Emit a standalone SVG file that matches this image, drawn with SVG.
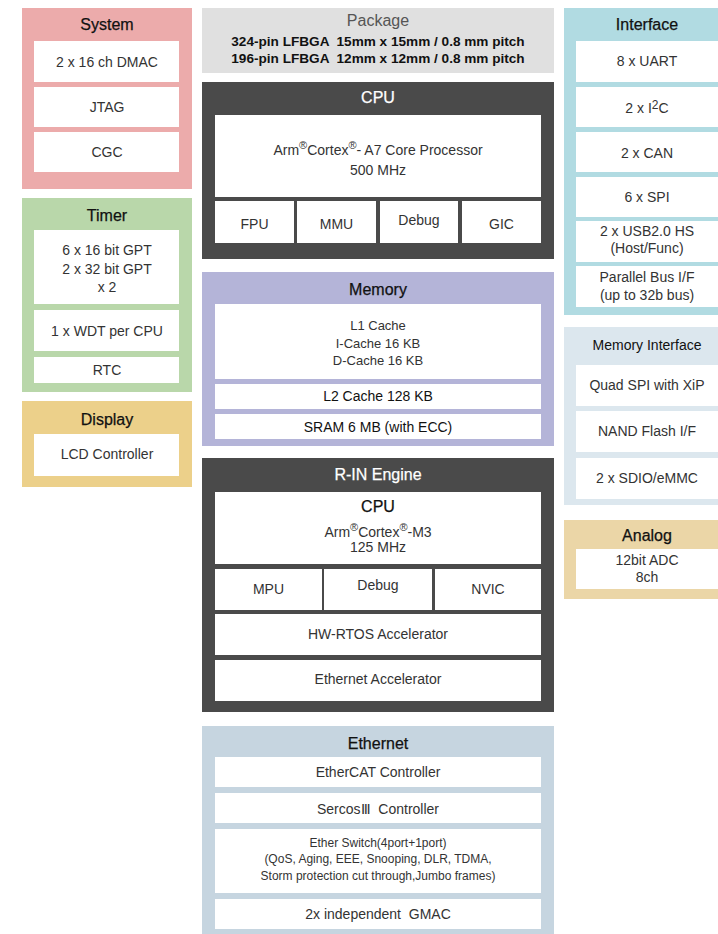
<svg xmlns="http://www.w3.org/2000/svg" width="718" height="934" viewBox="0 0 718 934">
<style>
text{font-family:"Liberation Sans",Arial,sans-serif;text-anchor:middle;white-space:pre;}
.t{font-size:16px;fill:#111;stroke:#111;stroke-width:0.25;}
.tw{font-size:16px;fill:#fff;stroke:#fff;stroke-width:0.25;}
.b{font-size:14px;fill:#333;}
.s{font-size:14px;fill:#333;}
.m{font-size:13px;fill:#333;}
.k{font-size:14px;fill:#111;}
.in{fill:#fff;}
.sup{font-size:11px;}
</style>
<rect width="718" height="934" fill="#fff"/>

<g id="system">
<rect x="22" y="8" width="170" height="181" fill="#ecabab"/>
<text class="t" x="107" y="30">System</text>
<rect class="in" x="34" y="41" width="145" height="41"/>
<text class="b" x="107" y="67">2 x 16 ch DMAC</text>
<rect class="in" x="34" y="87" width="145" height="40"/>
<text class="b" x="107" y="112">JTAG</text>
<rect class="in" x="34" y="132" width="145" height="40"/>
<text class="b" x="107" y="157">CGC</text>
</g>

<g id="timer">
<rect x="22" y="198" width="170" height="194" fill="#b9d7aa"/>
<text class="t" x="107" y="221">Timer</text>
<rect class="in" x="34" y="230" width="145" height="74"/>
<text class="b" x="107" y="255">6 x 16 bit GPT</text>
<text class="b" x="107" y="274">2 x 32 bit GPT</text>
<text class="b" x="107" y="292">x 2</text>
<rect class="in" x="34" y="310" width="145" height="41"/>
<text class="b" x="107" y="336">1 x WDT per CPU</text>
<rect class="in" x="34" y="357" width="145" height="26"/>
<text class="b" x="107" y="375">RTC</text>
</g>

<g id="display">
<rect x="22" y="401" width="170" height="86" fill="#ecd08a"/>
<text class="t" x="107" y="425">Display</text>
<rect class="in" x="34" y="434" width="145" height="42"/>
<text class="b" x="107" y="459">LCD Controller</text>
</g>

<g id="package">
<rect x="202" y="8" width="352" height="65" fill="#e0e0e0"/>
<text x="378" y="26" style="font-size:16px;fill:#555">Package</text>
<text x="378" y="46" style="font-size:13.6px;fill:#111;font-weight:bold">324-pin LFBGA  15mm x 15mm / 0.8 mm pitch</text>
<text x="378" y="63" style="font-size:13.6px;fill:#111;font-weight:bold">196-pin LFBGA  12mm x 12mm / 0.8 mm pitch</text>
</g>

<g id="cpu">
<rect x="202" y="82" width="352" height="177" fill="#4a4a4a"/>
<text class="tw" x="378" y="103">CPU</text>
<rect class="in" x="215" y="115" width="326" height="82"/>
<text class="s" x="378" y="155">Arm<tspan class="sup" dy="-6">®</tspan><tspan dy="6">Cortex</tspan><tspan class="sup" dy="-6">®</tspan><tspan dy="6">- A7 Core Processor</tspan></text>
<text class="s" x="378" y="175">500 MHz</text>
<rect class="in" x="215" y="201" width="79" height="42"/>
<text class="b" x="254.5" y="229">FPU</text>
<rect class="in" x="297" y="201" width="79" height="42"/>
<text class="b" x="336.5" y="229">MMU</text>
<rect class="in" x="380" y="201" width="78" height="42"/>
<text class="b" x="419" y="225">Debug</text>
<rect class="in" x="462" y="201" width="79" height="42"/>
<text class="b" x="501.5" y="229">GIC</text>
</g>

<g id="memory">
<rect x="202" y="272" width="352" height="174" fill="#b4b4d8"/>
<text class="t" x="378" y="295">Memory</text>
<rect class="in" x="215" y="304" width="326" height="75"/>
<text class="m" x="378" y="330">L1 Cache</text>
<text class="m" x="378" y="348">I-Cache 16 KB</text>
<text class="m" x="378" y="365">D-Cache 16 KB</text>
<rect class="in" x="215" y="384" width="326" height="25"/>
<text class="k" x="378" y="401">L2 Cache 128 KB</text>
<rect class="in" x="215" y="414" width="326" height="25"/>
<text class="k" x="378" y="432">SRAM 6 MB (with ECC)</text>
</g>

<g id="rin">
<rect x="202" y="458" width="352" height="254" fill="#4a4a4a"/>
<text class="tw" x="378" y="480">R-IN Engine</text>
<rect class="in" x="215" y="492" width="326" height="72"/>
<text class="t" x="378" y="512">CPU</text>
<text class="s" x="378" y="537">Arm<tspan class="sup" dy="-6">®</tspan><tspan dy="6">Cortex</tspan><tspan class="sup" dy="-6">®</tspan><tspan dy="6">-M3</tspan></text>
<text class="s" x="378" y="552">125 MHz</text>
<rect class="in" x="215" y="569" width="107" height="41"/>
<text class="b" x="268.5" y="594">MPU</text>
<rect class="in" x="324" y="569" width="108" height="41"/>
<text class="b" x="378" y="590">Debug</text>
<rect class="in" x="435" y="569" width="106" height="41"/>
<text class="b" x="488" y="594">NVIC</text>
<rect class="in" x="215" y="614" width="326" height="41"/>
<text class="s" x="378" y="639">HW-RTOS Accelerator</text>
<rect class="in" x="215" y="660" width="326" height="41"/>
<text class="s" x="378" y="684">Ethernet Accelerator</text>
</g>

<g id="ethernet">
<rect x="202" y="726" width="352" height="208" fill="#c6d5e0"/>
<text class="t" x="378" y="749">Ethernet</text>
<rect class="in" x="215" y="757" width="326" height="30"/>
<text class="s" x="378" y="777">EtherCAT Controller</text>
<rect class="in" x="215" y="793" width="326" height="30"/>
<text class="s" x="378" y="814">SercosⅢ  Controller</text>
<rect class="in" x="215" y="829" width="326" height="64"/>
<text x="378" y="847" style="font-size:12px;fill:#333">Ether Switch(4port+1port)</text>
<text x="378" y="863" style="font-size:12px;fill:#333">(QoS, Aging, EEE, Snooping, DLR, TDMA,</text>
<text x="378" y="880" style="font-size:12px;fill:#333">Storm protection cut through,Jumbo frames)</text>
<rect class="in" x="215" y="899" width="326" height="30"/>
<text class="s" x="378" y="919">2x independent  GMAC</text>
</g>

<g id="interface">
<rect x="564" y="8" width="160" height="307" fill="#b1dbe2"/>
<text class="t" x="647" y="30">Interface</text>
<rect class="in" x="576" y="41" width="150" height="41"/>
<text class="s" x="647" y="66">8 x UART</text>
<rect class="in" x="576" y="87" width="150" height="40"/>
<text class="s" x="647" y="113">2 x I<tspan style="font-size:12px" dy="-4">2</tspan><tspan dy="4">C</tspan></text>
<rect class="in" x="576" y="132" width="150" height="40"/>
<text class="s" x="647" y="158">2 x CAN</text>
<rect class="in" x="576" y="177" width="150" height="40"/>
<text class="s" x="647" y="202">6 x SPI</text>
<rect class="in" x="576" y="221" width="150" height="41"/>
<text class="s" x="647" y="236">2 x USB2.0 HS</text>
<text class="s" x="647" y="253">(Host/Func)</text>
<rect class="in" x="576" y="266" width="150" height="41"/>
<text class="s" x="647" y="282">Parallel Bus I/F</text>
<text class="s" x="647" y="300">(up to 32b bus)</text>
</g>

<g id="memory-interface">
<rect x="564" y="327" width="160" height="178" fill="#dce7ee"/>
<text x="647" y="350" style="font-size:14px;fill:#111">Memory Interface</text>
<rect class="in" x="576" y="365" width="150" height="41"/>
<text class="s" x="647" y="390">Quad SPI with XiP</text>
<rect class="in" x="576" y="411" width="150" height="41"/>
<text class="s" x="647" y="436">NAND Flash I/F</text>
<rect class="in" x="576" y="458" width="150" height="41"/>
<text class="s" x="647" y="483">2 x SDIO/eMMC</text>
</g>

<g id="analog">
<rect x="564" y="520" width="160" height="79" fill="#ebd6a7"/>
<text class="t" x="647" y="541">Analog</text>
<rect class="in" x="576" y="549" width="150" height="40"/>
<text class="s" x="647" y="565">12bit ADC</text>
<text class="s" x="647" y="582">8ch</text>
</g>

<g id="connectors"></g>
</svg>
